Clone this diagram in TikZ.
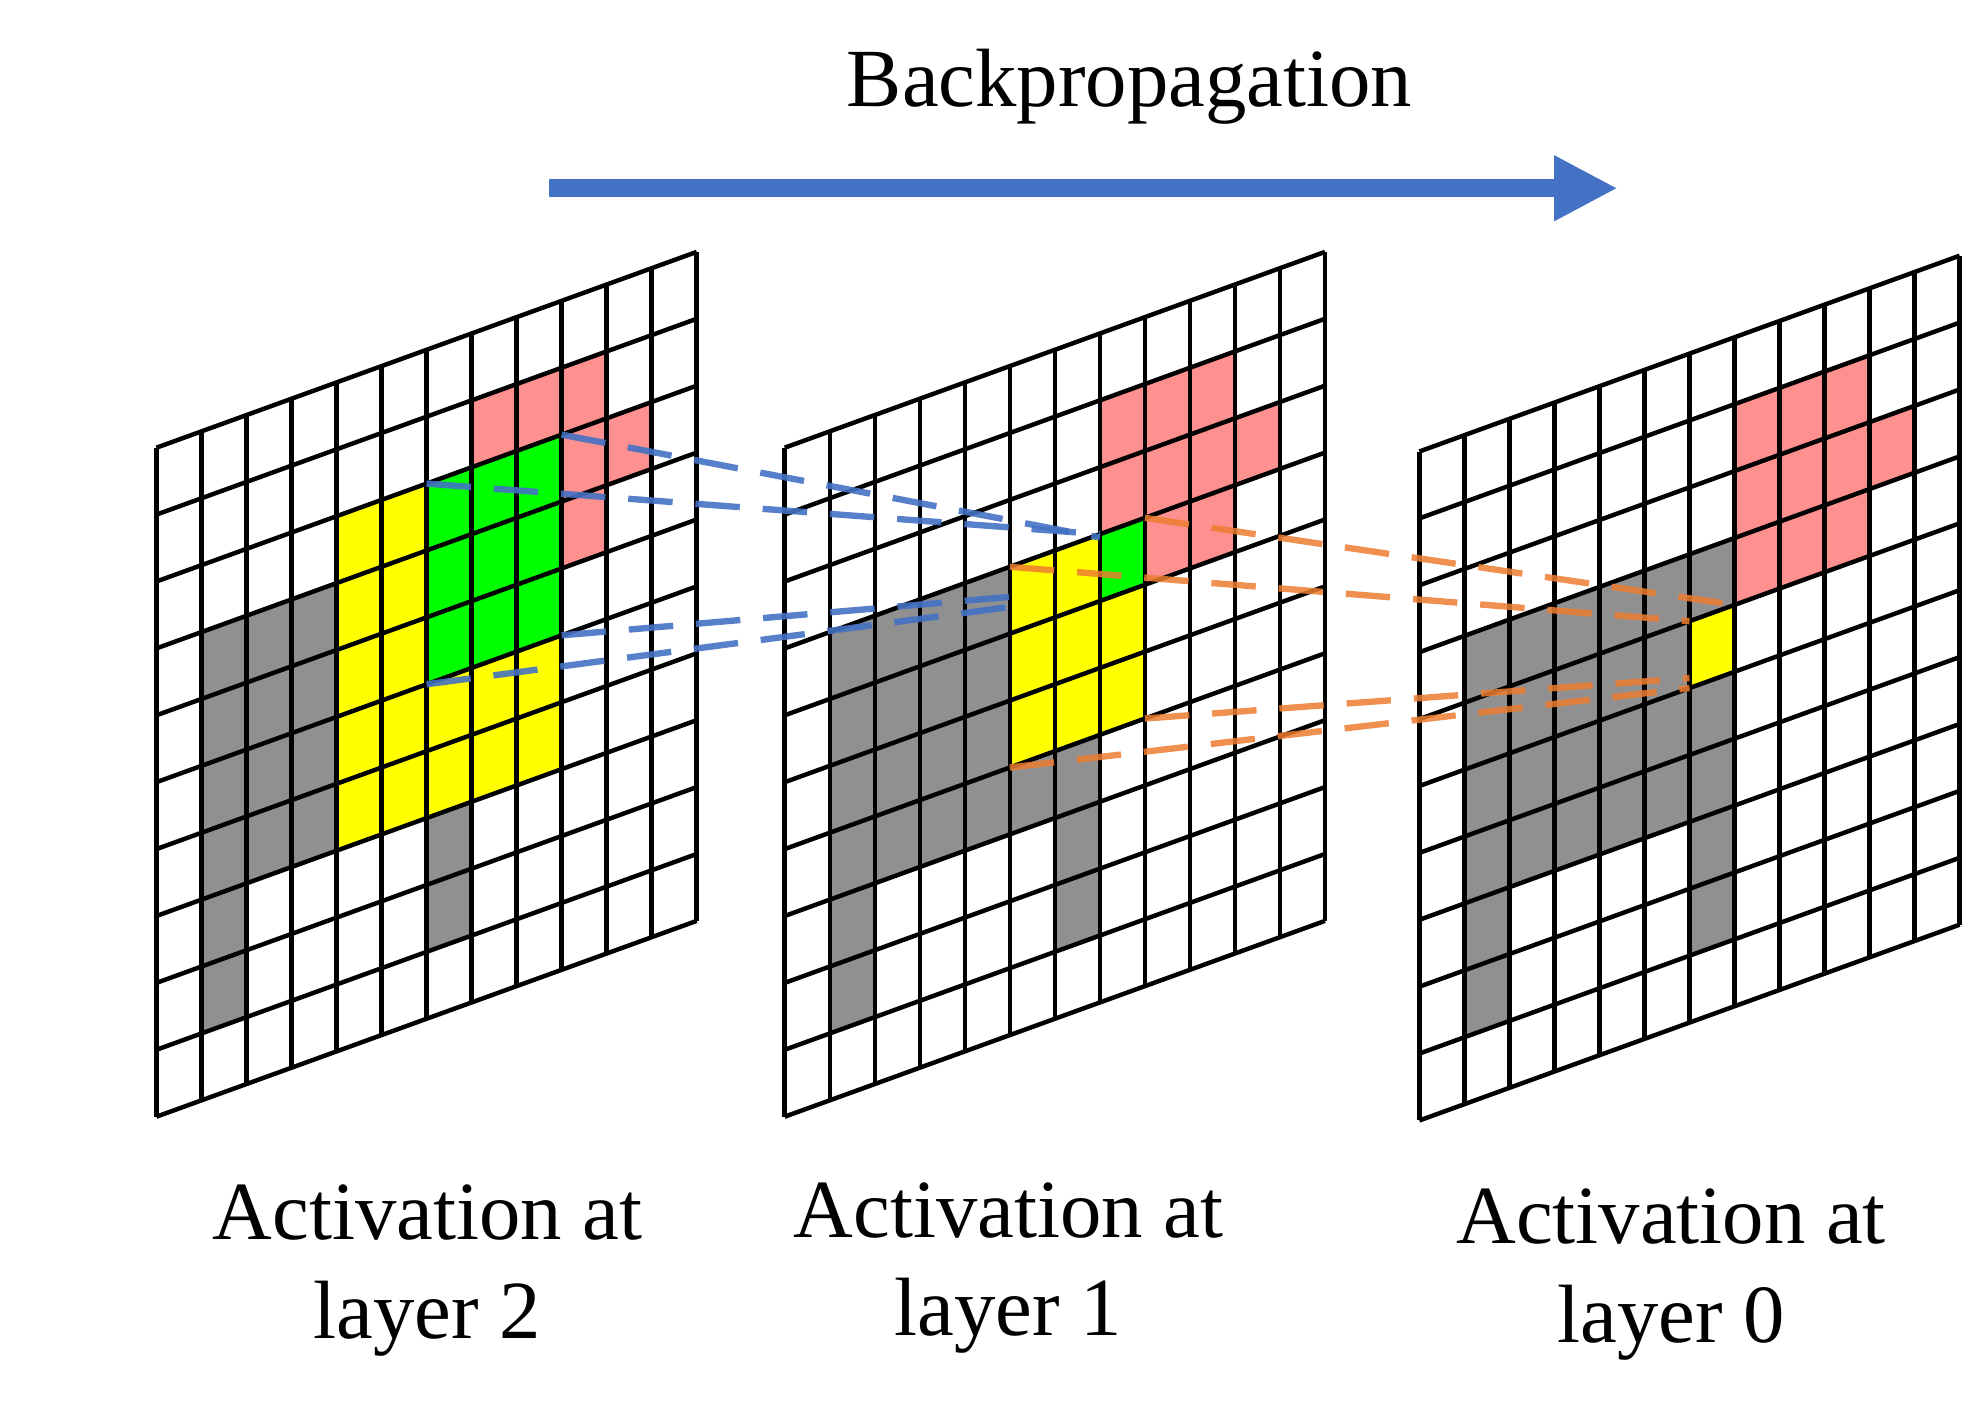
\documentclass[tikz,border=0pt]{standalone}
\usepackage{fontspec}
\setmainfont{Liberation Serif}
\usetikzlibrary{arrows.meta, positioning}

\definecolor{bpblue}{HTML}{4472C4}
\definecolor{bporange}{HTML}{ED7D31}
\definecolor{cellpink}{HTML}{FF9090}
\definecolor{cellgray}{HTML}{909090}
\definecolor{cellyellow}{HTML}{FFFF00}
\definecolor{cellgreen}{HTML}{00FF00}

\tikzset{
  gridline/.style={line width=0.35mm},
  pinkcell/.style={fill=cellpink},
  graycell/.style={fill=cellgray},
  yellowcell/.style={fill=cellyellow},
  greencell/.style={fill=cellgreen},
  bluedash/.style={draw=bpblue, line width=0.5mm, dash pattern=on 3.5mm off 1.8mm, opacity=0.9},
  orangedash/.style={draw=bporange, line width=0.5mm, dash pattern=on 3.5mm off 1.8mm, opacity=0.85},
  caption/.style={font=\fontsize{18.5}{22}\selectfont, align=center},
  layerframe/.style={x={(0.354cm,0.1283cm)}, y={(0cm,-0.526cm)}}
}
\newcommand{\cellat}[3]{\fill[#3] (#1,#2) -- ++(1,0) -- ++(0,1) -- ++(-1,0) -- cycle;}
\newcommand{\layergrid}{%
  \foreach \i in {0,...,12} {\draw[gridline] (\i,0) -- (\i,10);}
  \foreach \j in {0,...,10} {\draw[gridline] (0,\j) -- (12,\j);}
}

\begin{document}
\begin{tikzpicture}
\useasboundingbox (0,0) rectangle (15.6,-11.1);

% direction arrow
\coordinate (bpstart) at (4.32,-1.48);
\coordinate (bpend) at (12.72,-1.48);
\draw[bpblue, line width=1.4mm, -{Triangle[length=5mm,width=4.8mm]}] (bpstart) -- (bpend);
\node (bptext) at (8.88,-0.68) [caption] {Backpropagation};

% activation at layer 2
\begin{scope}[shift={(1.23,-3.52)}, layerframe]
  \foreach \i/\j in {7/1,8/1,9/1,9/2,9/3,10/2} {\cellat{\i}{\j}{pinkcell}}
  \foreach \j in {3,...,8} {\cellat{1}{\j}{graycell}}
  \foreach \i in {2,3} {\foreach \j in {3,...,6} {\cellat{\i}{\j}{graycell}}}
  \foreach \j in {7,8} {\cellat{6}{\j}{graycell}}
  \foreach \i in {4,5} {\foreach \j in {2,...,6} {\cellat{\i}{\j}{yellowcell}}}
  \foreach \i in {6,7,8} {\foreach \j in {5,6} {\cellat{\i}{\j}{yellowcell}}}
  \foreach \i in {6,7,8} {\foreach \j in {2,3,4} {\cellat{\i}{\j}{greencell}}}
  \layergrid
  \coordinate (l2a) at (6,2);
  \coordinate (l2b) at (9,2);
  \coordinate (l2c) at (9,5);
  \coordinate (l2d) at (6,5);
\end{scope}

% activation at layer 1
\begin{scope}[shift={(6.17,-3.52)}, layerframe]
  \foreach \i/\j in {7/1,7/2,8/1,8/2,8/3,9/1,9/2,9/3,10/2} {\cellat{\i}{\j}{pinkcell}}
  \foreach \j in {3,...,8} {\cellat{1}{\j}{graycell}}
  \foreach \i in {2,3,4} {\foreach \j in {3,...,6} {\cellat{\i}{\j}{graycell}}}
  \cellat{5}{6}{graycell}
  \foreach \j in {6,7,8} {\cellat{6}{\j}{graycell}}
  \foreach \i/\j in {5/3,5/4,5/5,6/3,6/4,6/5,7/4,7/5} {\cellat{\i}{\j}{yellowcell}}
  \cellat{7}{3}{greencell}
  \layergrid
  \coordinate (l1a) at (7,3);
  \coordinate (l1b) at (7,3.05);
  \coordinate (l1c) at (5,3.45);
  \coordinate (l1d) at (5,3.6);
  \coordinate (l1e) at (8,3);
  \coordinate (l1f) at (5,3);
  \coordinate (l1g) at (8,6);
  \coordinate (l1h) at (5,6);
\end{scope}

% activation at layer 0
\begin{scope}[shift={(11.16,-3.55)}, layerframe]
  \foreach \i in {7,8,9} {\foreach \j in {1,2,3} {\cellat{\i}{\j}{pinkcell}}}
  \cellat{10}{2}{pinkcell}
  \foreach \i in {1,6} {\foreach \j in {3,...,8} {\cellat{\i}{\j}{graycell}}}
  \foreach \i in {2,...,5} {\foreach \j in {3,...,6} {\cellat{\i}{\j}{graycell}}}
  \cellat{6}{4}{yellowcell}
  \layergrid
  \coordinate (l0a) at (7,4);
  \coordinate (l0b) at (6,4);
  \coordinate (l0c) at (6,4.85);
  \coordinate (l0d) at (6,5);
\end{scope}

% receptive field links
\draw[bluedash] (l2a) -- (l1a);
\draw[bluedash] (l2b) -- (l1b);
\draw[bluedash] (l2c) -- (l1c);
\draw[bluedash] (l2d) -- (l1d);
\draw[orangedash] (l1e) -- (l0a);
\draw[orangedash] (l1f) -- (l0b);
\draw[orangedash] (l1g) -- (l0c);
\draw[orangedash] (l1h) -- (l0d);

% captions
\node (cap2) at (3.36,-9.99) [caption] {Activation at\\layer 2};
\node (cap1) at (7.93,-9.97) [caption] {Activation at\\layer 1};
\node (cap0) at (13.14,-10.02) [caption] {Activation at\\layer 0};
\end{tikzpicture}
\end{document}
